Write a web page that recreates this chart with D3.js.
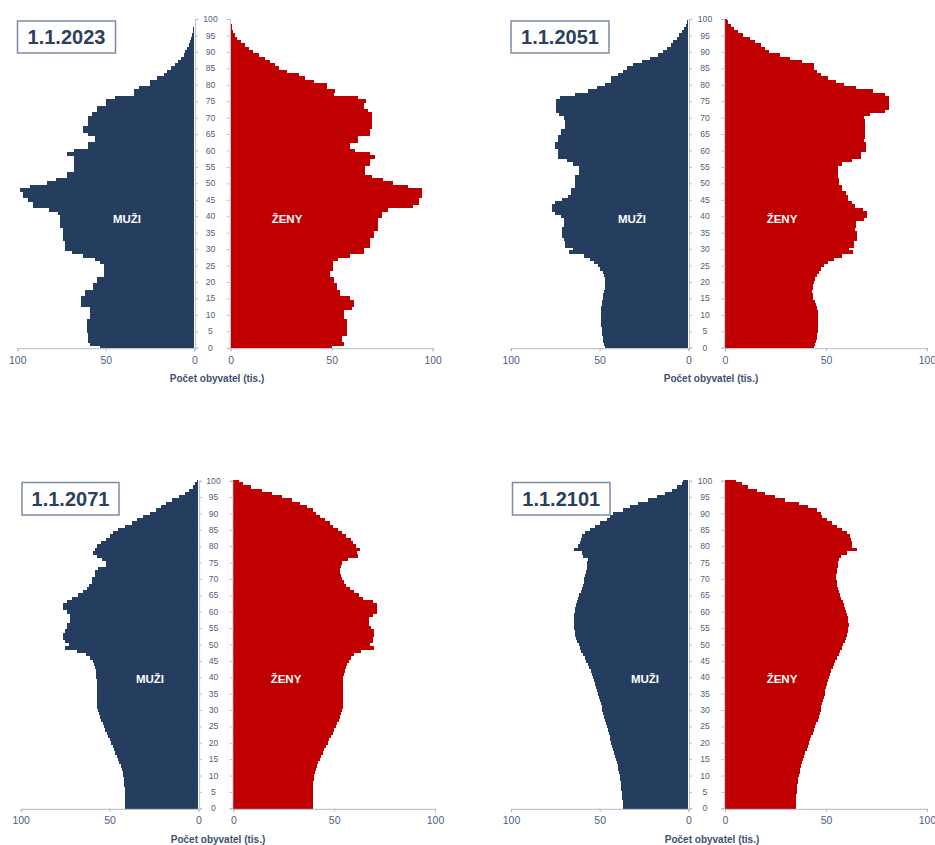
<!DOCTYPE html>
<html><head><meta charset="utf-8">
<script src="https://cdn.jsdelivr.net/npm/d3@7"></script>
<style>
html,body{margin:0;padding:0;background:#fff;}
svg{display:block;font-family:"Liberation Sans",Arial,Helvetica,sans-serif;}
</style></head><body>
<svg id="chart" width="935" height="845"></svg>
<script>
// ---------- DATA ----------
const years = ["1.1.2023", "1.1.2051", "1.1.2071", "1.1.2101"];
const ages = d3.range(0, 101);
const ageTicks = [0,5,10,15,20,25,30,35,40,45,50,55,60,65,70,75,80,85,90,95,100];
const valueTicks = [0, 50, 100];
const maleLabel = "MUŽI";
const femaleLabel = "ŽENY";
const axisTitle = "Počet obyvatel (tis.)";

// population in thousands, ages 0..100
const male2023 = [
  53, 59, 60, 60, 60, 60.5, 60.5, 60.5, 60.5, 59,
  59, 59, 59, 64, 64, 64, 62, 62, 57, 57,
  55, 55, 51, 51, 51, 51, 53, 56, 63, 69,
  73, 73, 73, 74, 74, 74, 74, 76, 76, 76,
  76, 77, 82, 91, 91, 94, 97, 97, 98.5, 93,
  83, 78, 72, 72, 68, 68, 68, 68, 68, 72,
  68, 60, 60, 56, 56, 60, 63, 63, 60, 60,
  60, 58, 55, 55, 50, 50, 45, 34, 34, 31,
  25, 25, 21, 17, 15.5, 13, 11, 9, 7.5, 6,
  5, 4, 3, 2.3, 1.7, 1.2, 0.8, 0.5, 0.3, 0.2, 0.1
];
const female2023 = [
  50, 56, 55, 55, 57.5, 57.5, 57.5, 57.5, 57.5, 56,
  56, 56, 60, 61, 61, 59, 54, 54, 52.5, 52.5,
  51, 51, 49, 49, 50.5, 50.5, 50.5, 53, 59, 66,
  66, 69, 69, 69, 71, 71, 73, 73, 73, 73,
  75, 75, 78, 90, 93, 93, 94.5, 94.5, 94.5, 88,
  80.5, 75.5, 70, 66.5, 66.5, 66.5, 69, 69, 71.5, 69,
  61.5, 59, 59, 63, 63, 69, 69, 70, 70, 70,
  70, 70, 68, 66, 66, 67, 63, 51, 51.5, 47.5,
  47.5, 41, 37, 34, 28, 24, 22, 19.5, 17, 14,
  11, 9, 7, 5, 3.3, 2.2, 1.3, 0.8, 0.5, 0.3, 0.2
];
const male2051 = [
  47, 47.5, 47.8, 48.1, 48.4, 48.6, 48.8, 49, 49.1, 49.2,
  49.2, 49.1, 49, 48.8, 48.5, 48.2, 47.8, 47.4, 47, 46.8,
  46.8, 47, 47.5, 48.3, 49.5, 51, 53, 55.5, 59, 67,
  65, 69.5, 69.5, 70, 71, 71, 71, 70, 70, 70,
  71.5, 75, 77, 77, 75, 71, 68, 66, 66, 64,
  64, 64, 64, 61.5, 61.5, 61.5, 65, 68.5, 73.5, 73.5,
  73.5, 75, 75, 73.5, 73.5, 71.5, 71.5, 69.5, 69.5, 69.5,
  70, 73, 74.5, 74.5, 74.5, 74.5, 72, 64, 56.5, 51.5,
  47, 43.5, 43.5, 39.5, 36.5, 34.5, 31, 26, 21.5, 17,
  14, 12, 10, 8.5, 6.5, 5, 3.8, 2.5, 1.5, 0.8, 0.4
];
const female2051 = [
  44, 44.5, 45, 45.3, 45.6, 45.8, 46, 46.1, 46.2, 46.2,
  46.1, 45.8, 45.4, 45, 44.4, 43.8, 43.4, 43.3, 43.4, 43.7,
  44.2, 44.8, 45.5, 46.3, 47.5, 49, 51, 54, 58, 63.5,
  61.5, 64, 64, 65.5, 65.5, 65.5, 64.5, 65, 65, 69,
  70.5, 70.5, 68.5, 64.5, 63, 61, 61, 60, 58, 58,
  56.5, 56.5, 56, 56, 56, 56, 58, 63, 67.5, 67.5,
  70, 70, 70, 69, 69.5, 69.5, 69.5, 69.5, 69.5, 69.5,
  69, 72, 79, 81, 81, 81, 81, 79, 73.5, 65,
  59, 55, 51, 47.5, 45.5, 44, 44, 38, 32, 27,
  22, 20, 18, 15, 12.5, 9, 6.5, 4.6, 3, 1.7, 0.8
];
const male2071 = [
  41, 41, 41.1, 41.2, 41.3, 41.4, 41.5, 41.6, 41.7, 41.9,
  42.2, 42.6, 43.1, 43.7, 44.4, 45.1, 45.9, 46.7, 47.5, 48.3,
  49.1, 49.9, 50.7, 51.5, 52.3, 53.1, 53.9, 54.6, 55.3, 55.9,
  56.4, 56.8, 57, 57.1, 57.2, 57.2, 57.2, 57.2, 57.2, 57.3,
  57.4, 57.5, 57.7, 58, 58.6, 59.5, 61, 63.5, 68.5, 75,
  73, 75, 76, 76, 75, 74, 74, 72, 72, 72,
  74, 76, 76, 74, 71, 67.5, 65, 62.5, 61.5, 60,
  60, 58, 58, 56.5, 52, 52, 54.5, 57, 59.5, 58,
  57, 55, 52, 49.5, 48, 45, 41, 37.5, 34.7, 31,
  27, 24, 21, 18, 15, 11, 7.5, 5.5, 3, 2, 1
];
const female2071 = [
  39.3, 39.3, 39.3, 39.3, 39.3, 39.3, 39.4, 39.5, 39.6, 39.8,
  40.1, 40.5, 41, 41.5, 42.1, 42.8, 43.6, 44.4, 45.2, 46,
  46.8, 47.6, 48.4, 49.2, 50, 50.8, 51.5, 52.2, 52.8, 53.4,
  53.9, 54.3, 54.5, 54.6, 54.6, 54.5, 54.3, 54.2, 54.2, 54.3,
  54.5, 54.9, 55.4, 56, 56.6, 57.2, 58.3, 60, 63.5, 70,
  68, 69.5, 69.5, 70, 70, 68.5, 67.5, 67.5, 67.5, 69.5,
  71, 71, 71, 69.5, 64.5, 62.5, 60, 58, 56, 55,
  54, 53.5, 53, 53, 53.5, 54, 57, 62, 61.5, 63,
  61, 59.5, 58.5, 56, 54, 52, 49.5, 48, 45.5, 43,
  41, 39.5, 36.5, 33, 29, 24, 19, 14, 9, 5, 3
];
const male2101 = [
  37, 37, 37.1, 37.2, 37.4, 37.6, 37.8, 38, 38.2, 38.5,
  38.8, 39.1, 39.5, 39.9, 40.4, 40.9, 41.4, 41.9, 42.4, 42.9,
  43.4, 43.9, 44.4, 44.9, 45.4, 45.9, 46.4, 46.9, 47.4, 47.9,
  48.4, 48.9, 49.4, 49.9, 50.4, 50.9, 51.4, 51.9, 52.5, 53.1,
  53.7, 54.4, 55.1, 55.9, 56.7, 57.6, 58.5, 59.4, 60.3, 61.1,
  61.9, 62.6, 63.2, 63.7, 64.1, 64.4, 64.6, 64.7, 64.6, 64.4,
  64.1, 63.7, 63.2, 62.6, 62, 61.4, 60.8, 60.2, 59.6, 59.1,
  58.6, 58.1, 57.7, 57.4, 57.1, 56.9, 56.8, 59.2, 59.8, 64.5,
  62, 61, 60.6, 59.8, 58.3, 55.5, 52.6, 49.8, 46, 44.2,
  42.3, 36.7, 32.9, 28.2, 22.6, 17.9, 13.2, 9.4, 6.6, 3.8, 2.8
];
const female2101 = [
  35, 35, 35, 35.1, 35.2, 35.4, 35.6, 35.8, 36, 36.3,
  36.6, 36.9, 37.3, 37.7, 38.1, 38.6, 39.1, 39.7, 40.4, 41,
  41.6, 42.2, 42.8, 43.4, 44, 44.6, 45.2, 45.8, 46.3, 46.8,
  47.3, 47.7, 48.1, 48.5, 48.9, 49.3, 49.7, 50.1, 50.6, 51.1,
  51.6, 52.1, 52.7, 53.3, 54, 54.7, 55.5, 56.3, 57.1, 57.9,
  58.6, 59.3, 59.9, 60.4, 60.8, 61.1, 61.2, 61.1, 60.8, 60.4,
  59.9, 59.4, 58.8, 58.2, 57.6, 57, 56.5, 56, 55.6, 55.3,
  55.1, 55.1, 55.2, 55.4, 55.7, 56, 56.4, 57.5, 60.3, 65.3,
  63.1, 62.8, 62.4, 61.8, 60.5, 58, 55.4, 52.9, 50.4, 47.9,
  47.6, 45.5, 41.3, 36.4, 29.8, 24.8, 19.8, 15.7, 11.6, 8.3, 5.3
];
const maleSeries = [male2023, male2051, male2071, male2101];
const femaleSeries = [female2023, female2051, female2071, female2101];

// ---------- LAYOUT ----------
const panels = [
  {mx100:17.3, mx0:194.3, fx0:230.7, fx100:432.7, y0:347.7, y100:19,
   box:[17.5,21,98,32], ageX:210.5, muzi:[127,223], zeny:[287,223], titleX:217},
  {mx100:510.7, mx0:688.3, fx0:725, fx100:927, y0:347.7, y100:19,
   box:[511,21,98,32], ageX:705, muzi:[632,223], zeny:[782,223], titleX:711},
  {mx100:20.7, mx0:198.3, fx0:233.3, fx100:435, y0:808.3, y100:480.7,
   box:[22,482.5,97,32.5], ageX:213.5, muzi:[150,682.5], zeny:[286,682.5], titleX:218},
  {mx100:511, mx0:688.3, fx0:725, fx100:927, y0:808.3, y100:480.7,
   box:[512.5,482.5,97.5,32.5], ageX:705, muzi:[645,682.5], zeny:[782,682.5], titleX:712}
];

const C = {male:"#253e5f", female:"#c00000", tick:"#4e6180", axis:"#a9b3c2",
           title:"#2b3f5e", box:"#7d8ca3", axTitle:"#3e5070"};

const svg = d3.select("#chart");

panels.forEach((p, i) => {
  const g = svg.append("g");
  const y = d3.scaleLinear().domain([0, 100]).range([p.y0, p.y100]);
  const xm = d3.scaleLinear().domain([0, 100]).range([p.mx0, p.mx100]);
  const xf = d3.scaleLinear().domain([0, 100]).range([p.fx0, p.fx100]);
  const rowTop = a => y(Math.min(a + 0.5, 100));
  const rowBot = a => y(Math.max(a - 0.5, 0));

  const mData = ages.map(a => ({age: a, v: maleSeries[i][a]}));
  const fData = ages.map(a => ({age: a, v: femaleSeries[i][a]}));

  g.append("g").attr("shape-rendering", "crispEdges")
    .selectAll("rect").data(mData).join("rect")
    .attr("x", d => xm(d.v))
    .attr("width", d => p.mx0 - xm(d.v))
    .attr("y", d => rowTop(d.age) - 0.3)
    .attr("height", d => rowBot(d.age) - rowTop(d.age) + 0.6)
    .attr("fill", C.male);

  g.append("g").attr("shape-rendering", "crispEdges")
    .selectAll("rect").data(fData).join("rect")
    .attr("x", p.fx0)
    .attr("width", d => xf(d.v) - p.fx0)
    .attr("y", d => rowTop(d.age) - 0.3)
    .attr("height", d => rowBot(d.age) - rowTop(d.age) + 0.6)
    .attr("fill", C.female);

  // vertical age axes (lines + ticks)
  const ayM = g.append("g").attr("transform", `translate(${p.mx0 + 0.8},0)`)
    .call(d3.axisRight(y).tickValues(ageTicks).tickSize(3).tickFormat(""));
  const ayF = g.append("g").attr("transform", `translate(${p.fx0 - 0.8},0)`)
    .call(d3.axisLeft(y).tickValues(ageTicks).tickSize(3).tickFormat(""));
  [ayM, ayF].forEach(ax => {
    ax.selectAll("path").attr("stroke", C.axis).attr("stroke-width", 0.8);
    ax.selectAll("line").attr("stroke", C.axis).attr("stroke-width", 0.8);
  });

  // age labels
  g.append("g").selectAll("text").data(ageTicks).join("text")
    .attr("x", p.ageX).attr("y", d => y(d)).attr("dy", "0.36em")
    .attr("text-anchor", "middle").attr("font-size", 8.6).attr("fill", C.tick)
    .text(d => d);

  // x axes
  const axM = g.append("g").attr("transform", `translate(0,${p.y0 + 0.5})`)
    .call(d3.axisBottom(xm).tickValues(valueTicks).tickSize(3).tickPadding(5));
  const axF = g.append("g").attr("transform", `translate(0,${p.y0 + 0.5})`)
    .call(d3.axisBottom(xf).tickValues(valueTicks).tickSize(3).tickPadding(5));
  [axM, axF].forEach(ax => {
    ax.select(".domain").attr("stroke", C.axis).attr("stroke-width", 0.9);
    ax.selectAll("line").attr("stroke", C.axis).attr("stroke-width", 0.9);
    ax.selectAll("text").attr("fill", C.tick).attr("font-size", 10.5)
      .attr("font-family", "Liberation Sans, Arial, sans-serif");
  });

  // axis title
  g.append("text").attr("x", p.titleX).attr("y", p.y0 + 34.6)
    .attr("text-anchor", "middle").attr("font-size", 10).attr("font-weight", "bold")
    .attr("fill", C.axTitle).text(axisTitle);

  // title box
  const [bx, by, bw, bh] = p.box;
  g.append("rect").attr("x", bx).attr("y", by).attr("width", bw).attr("height", bh)
    .attr("fill", "#fff").attr("stroke", C.box).attr("stroke-width", 1.5);
  g.append("text").attr("x", bx + bw / 2).attr("y", by + bh / 2 + 7.1)
    .attr("text-anchor", "middle").attr("font-size", 20).attr("font-weight", "bold")
    .attr("fill", C.title).text(years[i]);

  // sex labels
  g.append("text").attr("x", p.muzi[0]).attr("y", p.muzi[1])
    .attr("text-anchor", "middle").attr("font-size", 11.5).attr("font-weight", "bold")
    .attr("fill", "#fff").text(maleLabel);
  g.append("text").attr("x", p.zeny[0]).attr("y", p.zeny[1])
    .attr("text-anchor", "middle").attr("font-size", 11.5).attr("font-weight", "bold")
    .attr("fill", "#fff").text(femaleLabel);
});
</script>
</body></html>
